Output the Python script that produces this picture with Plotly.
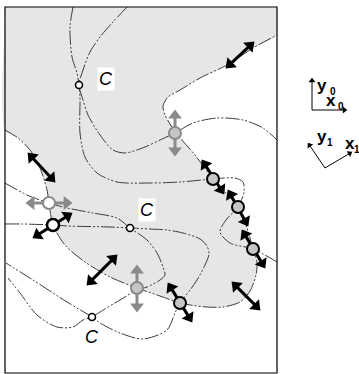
import numpy as np
import plotly.graph_objects as go

W, H = 359, 374

# ---- frame (diagram coordinates, y downward) ----
frame = [5, 7, 277, 373]

# ---- boundary of the shaded region (from left edge around to right edge) ----
boundary_x = [5, 18, 30, 40, 47, 49, 53, 65, 85, 110, 137, 160, 180, 190, 207, 223, 240, 250, 256, 257,
              253, 247, 238, 226, 213, 195, 176, 170, 165, 163, 168, 180, 200, 227, 253, 277]
boundary_y = [130, 138, 150, 168, 190, 203, 225, 245, 262, 277, 288, 296, 303, 305, 307, 307, 302, 291, 275, 262,
              249, 228, 207, 193, 179, 155, 133, 124, 115, 106, 97, 90, 78, 65, 48, 35]
corner_x = [277, 277, 270, 12, 5, 5]
corner_y = [25, 7, 7, 7, 7, 20]

# ---- curves ----
curve_a_x = [73, 70, 72, 77, 79, 80, 80, 85, 97, 117, 150, 180, 213, 235, 243, 244, 238, 226, 220, 230, 253, 277]
curve_a_y = [7, 27, 57, 73, 85, 97, 133, 157, 173, 182, 183, 182, 179, 178, 182, 192, 207, 220, 232, 243, 249, 262]

curve_b_x = [127, 113, 100, 90, 83, 79, 83, 88, 100, 113, 125, 145, 160, 175, 193, 217, 243, 263, 277]
curve_b_y = [7, 22, 37, 52, 70, 85, 100, 115, 135, 150, 153, 147, 140, 133, 123, 118, 120, 128, 140]

curve_p_x = [5, 22, 53, 67, 110, 130, 150, 167, 183, 200, 207, 209, 205, 197, 190, 180, 175, 167, 143, 120, 100, 92, 67, 33, 6]
curve_p_y = [224, 224, 225, 226, 227, 228, 229, 230, 233, 239, 246, 254, 265, 280, 290, 303, 313, 330, 339, 333, 323, 317, 302, 280, 263]

curve_q_x = [5, 27, 49, 67, 93, 117, 130, 147, 157, 163, 165, 160, 147, 137, 120, 100, 92, 83, 73, 57, 37, 20, 8]
curve_q_y = [183, 195, 203, 208, 213, 218, 228, 240, 253, 267, 275, 280, 287, 290, 300, 312, 317, 320, 327, 327, 315, 293, 278]

# ---- arrows (x0, y0, x1, y1) ----
black_arrows = [
    (226, 68, 254, 42),
    (28, 153, 55, 182),
    (33, 238, 72, 213),
    (87, 285, 117, 255),
    (202, 160, 224, 194),
    (228, 190, 248, 226),
    (242, 230, 265, 268),
    (168, 283, 192, 322),
    (232, 282, 260, 310),
]
gray_arrows = [
    (175, 110, 175, 156),
    (137, 265, 137, 312),
    (26, 203, 72, 203),
]

# ---- markers ----
ring_black_fill_gray_x = [213, 238, 253, 180]
ring_black_fill_gray_y = [179, 207, 249, 303]
ring_gray_fill_gray_x = [175, 137]
ring_gray_fill_gray_y = [133, 288]
ring_gray_fill_white_x = [49]
ring_gray_fill_white_y = [203]
ring_black_fill_white_x = [53]
ring_black_fill_white_y = [225]
c_points_x = [79, 130, 92]
c_points_y = [85, 228, 317]
c_label_x = [106, 147, 92]
c_label_y = [79, 210, 337]
c_labels = ["C", "C", "C"]

# ---- coordinate-system legend ----
legend_arrows = [
    (312, 110, 312, 78),
    (312, 110, 347, 110),
    (325, 168, 308, 143),
    (325, 168, 352, 152),
]
legend_letters = ["y", "x", "y", "x"]
legend_letter_x = [322, 331, 322, 350]
legend_letter_y = [85, 100, 136, 143]
legend_subs = ["0", "0", "1", "1"]
legend_sub_x = [333, 341, 330, 357]
legend_sub_y = [91, 106, 142, 149]

LINE = "#3c3c3c"
DASH = "14px,2px,2px,2px,2px,2px"
REGION = "#e6e6e6"
GRAYMK = "#c6c6c6"
GRAYLN = "#8a8a8a"
FONT = "Liberation Sans, Arial, sans-serif"

fig = go.Figure()

# shaded region
fig.add_trace(go.Scatter(x=boundary_x + corner_x + [boundary_x[0]], y=boundary_y + corner_y + [boundary_y[0]],
                         mode="lines", fill="toself", fillcolor=REGION,
                         line=dict(width=0, shape="spline", smoothing=0.8), hoverinfo="skip"))

for cx, cy in [(boundary_x, boundary_y), (curve_a_x, curve_a_y), (curve_b_x, curve_b_y),
               (curve_p_x, curve_p_y), (curve_q_x, curve_q_y)]:
    fig.add_trace(go.Scatter(x=cx, y=cy, mode="lines",
                             line=dict(color=LINE, width=1, dash=DASH, shape="spline", smoothing=0.8),
                             hoverinfo="skip"))


def add_arrows(arrows, color, width, head, both=True):
    for (x0, y0, x1, y1) in arrows:
        dx, dy = x1 - x0, y1 - y0
        L = np.hypot(dx, dy)
        ux, uy = dx / L, dy / L
        h = head * 0.45
        sx = x0 + ux * h if both else x0
        sy = y0 + uy * h if both else y0
        fig.add_trace(go.Scatter(x=[sx, x1 - ux * h], y=[sy, y1 - uy * h], mode="lines",
                                 line=dict(color=color, width=width), hoverinfo="skip"))
        ang_end = np.degrees(np.arctan2(dx, -dy))
        hx = [x1 - ux * h] + ([x0 + ux * h] if both else [])
        hy = [y1 - uy * h] + ([y0 + uy * h] if both else [])
        angs = [ang_end] + ([ang_end + 180] if both else [])
        fig.add_trace(go.Scatter(x=hx, y=hy, mode="markers",
                                 marker=dict(symbol="triangle-up", size=head, color=color,
                                             angle=angs, line=dict(width=0)),
                                 hoverinfo="skip"))


add_arrows(black_arrows, "black", 3, 12)
add_arrows(gray_arrows, GRAYLN, 3, 12)
add_arrows(legend_arrows, "black", 1, 6, both=False)

fig.add_trace(go.Scatter(x=ring_black_fill_gray_x, y=ring_black_fill_gray_y, mode="markers",
                         marker=dict(size=12, color=GRAYMK, line=dict(color="black", width=2)), hoverinfo="skip"))
fig.add_trace(go.Scatter(x=ring_gray_fill_gray_x, y=ring_gray_fill_gray_y, mode="markers",
                         marker=dict(size=12, color=GRAYMK, line=dict(color=GRAYLN, width=2)), hoverinfo="skip"))
fig.add_trace(go.Scatter(x=ring_gray_fill_white_x, y=ring_gray_fill_white_y, mode="markers",
                         marker=dict(size=12, color="white", line=dict(color=GRAYLN, width=2)), hoverinfo="skip"))
fig.add_trace(go.Scatter(x=ring_black_fill_white_x, y=ring_black_fill_white_y, mode="markers",
                         marker=dict(size=12, color="white", line=dict(color="black", width=2.5)), hoverinfo="skip"))
fig.add_trace(go.Scatter(x=c_points_x, y=c_points_y, mode="markers",
                         marker=dict(size=7, color="white", line=dict(color="black", width=1.6)), hoverinfo="skip"))

for t, x, y in zip(c_labels, c_label_x, c_label_y):
    fig.add_annotation(x=x, y=y, text="<i>" + t + "</i>", showarrow=False, bgcolor="white",
                       font=dict(family=FONT, size=18, color="black"), borderpad=1)

for t, x, y in zip(legend_letters, legend_letter_x, legend_letter_y):
    fig.add_annotation(x=x, y=y, text="<b>" + t + "</b>", showarrow=False,
                       font=dict(family=FONT, size=17, color="black"), borderpad=0)
for t, x, y in zip(legend_subs, legend_sub_x, legend_sub_y):
    fig.add_annotation(x=x, y=y, text="<b>" + t + "</b>", showarrow=False,
                       font=dict(family=FONT, size=10, color="black"), borderpad=0)

fig.add_shape(type="rect", x0=frame[0], y0=frame[1], x1=frame[2], y1=frame[3],
              line=dict(color="black", width=1.2), layer="above")

fig.update_layout(width=W, height=H, margin=dict(l=0, r=0, t=0, b=0),
                  plot_bgcolor="white", paper_bgcolor="white", showlegend=False,
                  xaxis=dict(range=[0, W], visible=False, fixedrange=True),
                  yaxis=dict(range=[H, 0], visible=False, fixedrange=True))

fig.write_html("out.html", config={"displayModeBar": False},
               post_script="document.body.style.margin='0';document.body.style.padding='0';")
